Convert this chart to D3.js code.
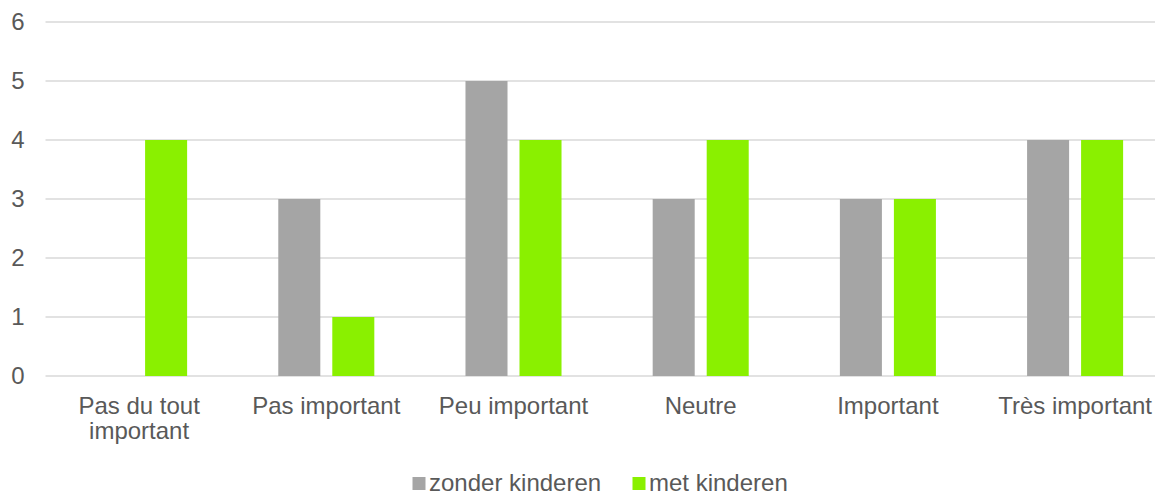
<!DOCTYPE html>
<html><head><meta charset="utf-8">
<script src="https://cdn.jsdelivr.net/npm/d3@7"></script>
<style>body{margin:0;background:#fff}svg{display:block}text{font-family:"Liberation Sans",Arial,sans-serif;fill:#595959}</style>
</head><body><svg id="c" width="1155" height="493"></svg>
<script>
const categories = [["Pas du tout","important"],["Pas important"],["Peu important"],["Neutre"],["Important"],["Très important"]];
const seriesNames = ["zonder kinderen","met kinderen"];
const zonder = [0,3,5,3,3,4];
const met = [4,1,4,4,3,4];
const yTicks = [0,1,2,3,4,5,6];
const colors = ["#A5A5A5","#8AF000"];

const svg = d3.select("#c");
const catKeys = categories.map(c=>c.join(" "));
const x0 = d3.scaleBand().domain(catKeys).range([45.5,1168.7]).paddingInner(0).paddingOuter(0);
const x1 = d3.scaleBand().domain(seriesNames).range([0,x0.bandwidth()]).paddingInner(0.222).paddingOuter(0.844);
const y = d3.scaleLinear().domain([0,6]).range([376,22]);

// gridlines
svg.append("g").selectAll("line").data(yTicks).join("line")
  .attr("x1",45.5).attr("x2",1168.7)
  .attr("y1",d=>y(d)).attr("y2",d=>y(d))
  .attr("stroke","#D9D9D9").attr("stroke-width",1.5);

// y labels
svg.append("g").selectAll("text").data(yTicks).join("text")
  .attr("x",24.5).attr("y",d=>y(d)).attr("dy","0.35em")
  .attr("text-anchor","end").attr("font-size",24).text(d=>d);

const data = catKeys.map((k,i)=>({k, vals:[zonder[i],met[i]]}));
const g = svg.append("g");
data.forEach(d=>{
  d.vals.forEach((v,j)=>{
    if(v<=0) return;
    g.append("rect")
      .attr("x",x0(d.k)+x1(seriesNames[j]))
      .attr("width",x1.bandwidth())
      .attr("y",y(v)).attr("height",y(0)-y(v))
      .attr("fill",colors[j]);
  });
});

// category labels
const cl = svg.append("g");
categories.forEach((c,i)=>{
  const cx = x0(catKeys[i])+x0.bandwidth()/2;
  const t = cl.append("text").attr("text-anchor","middle").attr("font-size",24)
    .attr("x",cx).attr("y",414);
  c.forEach((line,li)=>{
    t.append("tspan").attr("x",cx).attr("dy",li===0?0:25).text(line);
  });
});

// legend
const legX = [412.5, 632.5];
seriesNames.forEach((s,j)=>{
  svg.append("rect").attr("x",legX[j]).attr("y",477).attr("width",13).attr("height",13).attr("fill",colors[j]);
  svg.append("text").attr("x",legX[j]+16.5).attr("y",490.5).attr("font-size",24).text(s);
});
</script></body></html>
